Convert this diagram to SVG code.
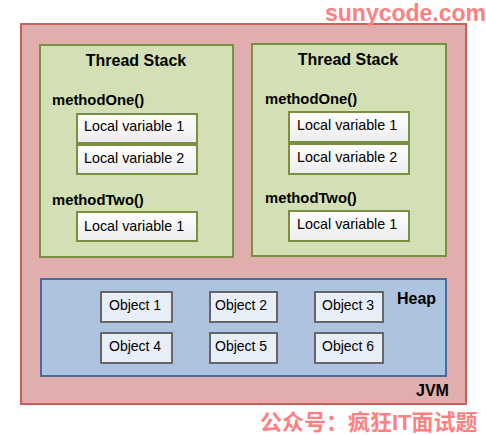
<svg xmlns="http://www.w3.org/2000/svg" width="486" height="435" viewBox="0 0 486 435">
<style>
text{font-family:"Liberation Sans",Arial,sans-serif;fill:#000}
.h{font-size:16px;font-weight:bold}
.m{font-size:14.8px;font-weight:bold}
.t{font-size:14.3px}
.o{font-size:14px}
.lv{fill:url(#g);stroke:#7a9040;stroke-width:2}
.ts{fill:#d3e0b5;stroke:#7a9040;stroke-width:2}
.ob{fill:#e8eef7;stroke:#666;stroke-width:2}
.wm{font-weight:bold;fill:#ff8080}
</style>
<defs>
<linearGradient id="g" x1="0" y1="0" x2="0" y2="1"><stop offset="0" stop-color="#ffffff"/><stop offset="1" stop-color="#ececec"/></linearGradient>
</defs>
<rect width="486" height="435" fill="#fff"/>
<g id="jvm">
<rect x="21" y="24" width="445" height="380" fill="#e1aeae" stroke="#c9605c" stroke-width="2"/>
<text class="h" x="416" y="396">JVM</text>
</g>
<g id="stack1">
<rect class="ts" x="40" y="45" width="193" height="212"/>
<text class="h" x="136" y="66" text-anchor="middle">Thread Stack</text>
<text class="m" x="52" y="105">methodOne()</text>
<rect class="lv" x="77" y="114" width="120" height="29"/>
<text class="t" x="84" y="131">Local variable 1</text>
<rect class="lv" x="77" y="145" width="120" height="29"/>
<text class="t" x="84" y="163">Local variable 2</text>
<text class="m" x="52" y="205">methodTwo()</text>
<rect class="lv" x="77" y="212" width="120" height="29"/>
<text class="t" x="84" y="231">Local variable 1</text>
</g>
<g id="stack2">
<rect class="ts" x="252" y="44" width="194" height="212"/>
<text class="h" x="348" y="65" text-anchor="middle">Thread Stack</text>
<text class="m" x="265" y="104">methodOne()</text>
<rect class="lv" x="289" y="112" width="120" height="30"/>
<text class="t" x="297" y="130">Local variable 1</text>
<rect class="lv" x="289" y="144" width="120" height="30"/>
<text class="t" x="297" y="162">Local variable 2</text>
<text class="m" x="265" y="203">methodTwo()</text>
<rect class="lv" x="289" y="211" width="120" height="30"/>
<text class="t" x="297" y="229">Local variable 1</text>
</g>
<g id="heap">
<rect x="41" y="279" width="405" height="97" fill="#adc3e0" stroke="#4a6a99" stroke-width="2"/>
<text class="h" x="397" y="304">Heap</text>
</g>
<g id="obj1"><rect class="ob" x="101" y="292" width="71" height="30"/><text class="o" x="109" y="310">Object 1</text></g>
<g id="obj2"><rect class="ob" x="210" y="292" width="67" height="30"/><text class="o" x="215" y="310">Object 2</text></g>
<g id="obj3"><rect class="ob" x="315" y="292" width="68" height="30"/><text class="o" x="322" y="310">Object 3</text></g>
<g id="obj4"><rect class="ob" x="101" y="333" width="71" height="30"/><text class="o" x="109" y="351">Object 4</text></g>
<g id="obj5"><rect class="ob" x="210" y="333" width="67" height="30"/><text class="o" x="215" y="351">Object 5</text></g>
<g id="obj6"><rect class="ob" x="315" y="333" width="68" height="30"/><text class="o" x="322" y="351">Object 6</text></g>
<g id="connectors"></g>
<text class="wm" x="325" y="21" style="font-size:23px">sunycode.com</text>
<text class="wm" x="260" y="430" style="font-size:22px;font-family:'Liberation Sans','Noto Sans CJK SC',sans-serif">公众号：疯狂IT面试题</text>
</svg>
